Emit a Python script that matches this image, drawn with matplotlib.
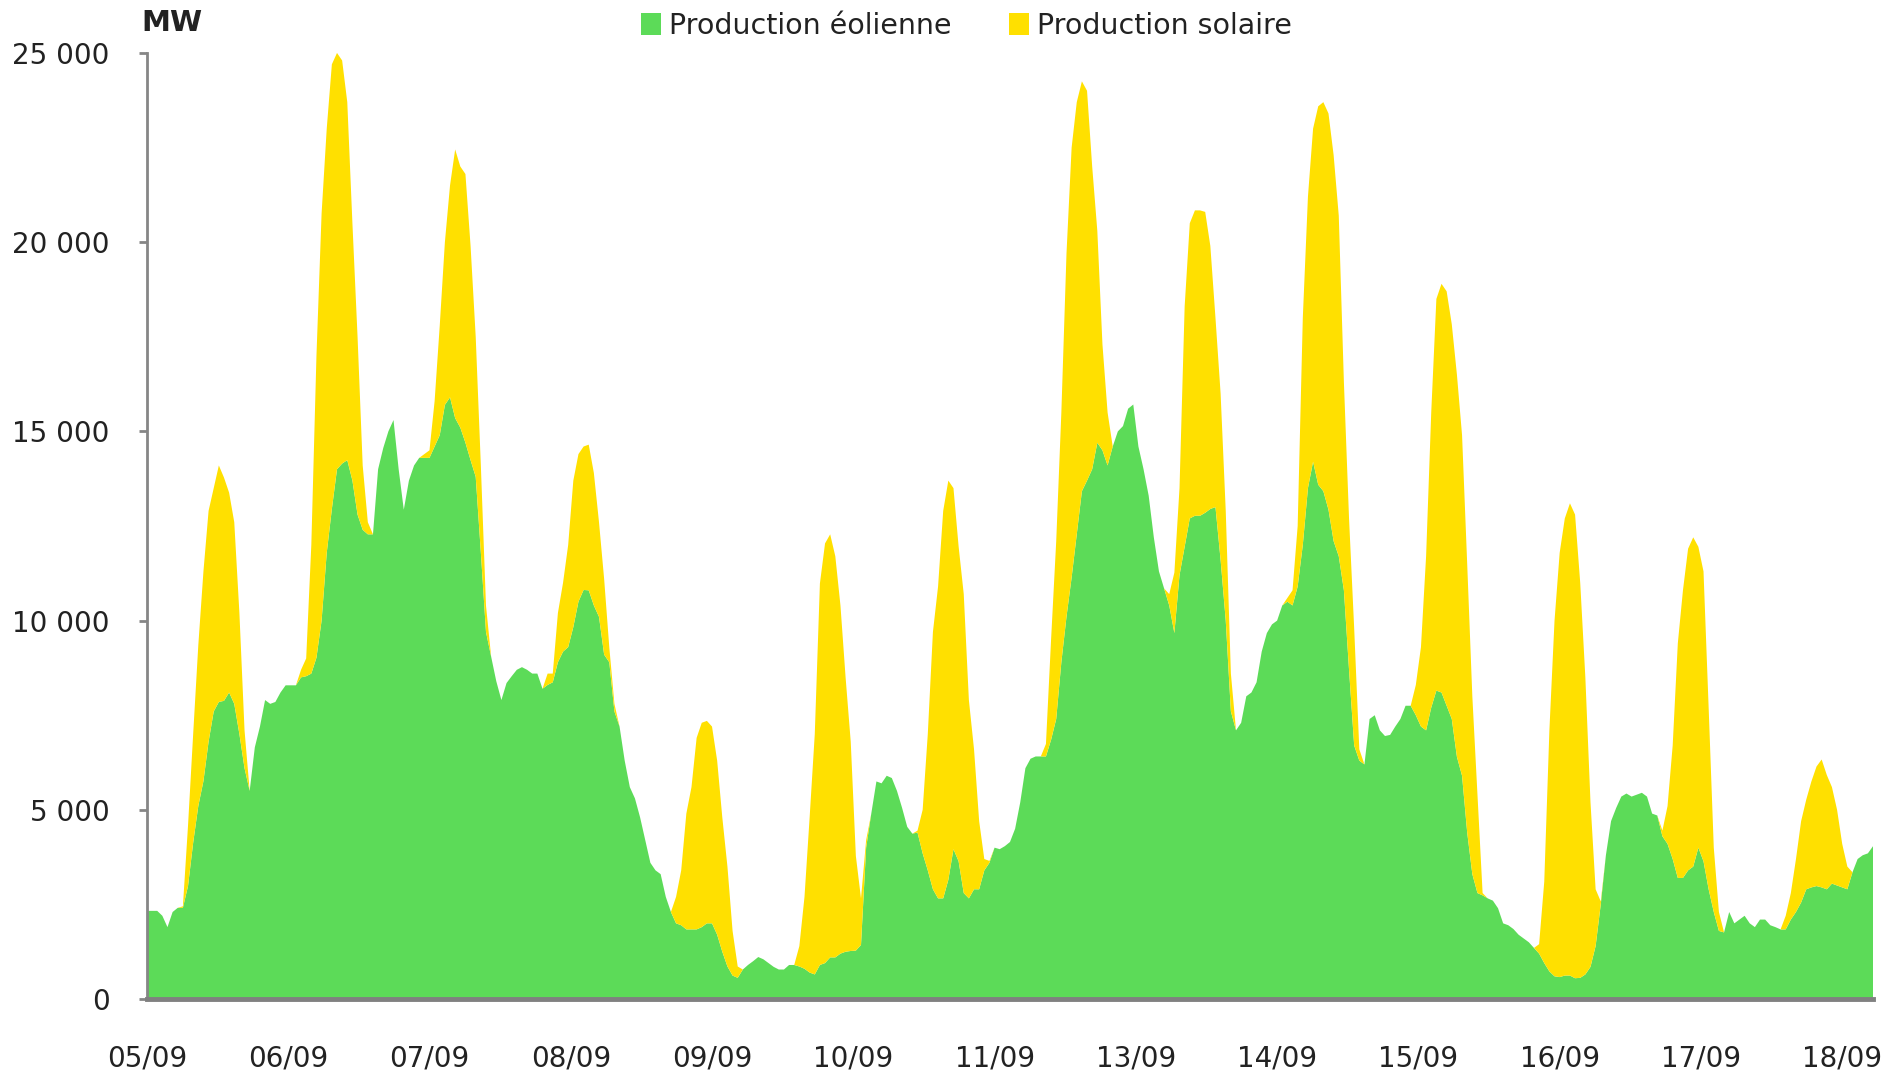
import numpy as np
import matplotlib
matplotlib.use("Agg")
import matplotlib.pyplot as plt
from matplotlib.patches import Patch

plt.rcParams['font.family'] = ['DejaVu Sans']

# hourly values (MW), one row per day starting 05/09 00:00
wind_mw = [
    2330, 2330, 2330, 2200, 1900, 2300, 2410, 2410, 2985, 4130, 5100, 5760, 6800, 7600, 7850, 7880, 8100, 7800, 7000, 6100, 5500, 6650, 7200, 7900,
    7800, 7850, 8100, 8290, 8290, 8290, 8500, 8530, 8600, 9020, 10000, 11790, 12950, 14000, 14150, 14240, 13700, 12800, 12400, 12280, 12280, 14000, 14560, 15000,
    15300, 14000, 12930, 13700, 14100, 14300, 14300, 14300, 14600, 14900, 15700, 15900, 15350, 15100, 14700, 14240, 13800, 11800, 9700, 9050, 8400, 7900, 8350, 8530,
    8700, 8770, 8700, 8600, 8600, 8200, 8300, 8370, 8900, 9180, 9300, 9830, 10500, 10810, 10800, 10400, 10100, 9100, 8900, 7600, 7200, 6300, 5600, 5300,
    4800, 4200, 3600, 3400, 3300, 2700, 2300, 2000, 1950, 1840, 1840, 1840, 1900, 2000, 2000, 1700, 1250, 860, 620, 560, 780, 900, 1000, 1110,
    1050, 950, 850, 780, 780, 900, 900, 860, 800, 700, 650, 900, 950, 1100, 1100, 1200, 1250, 1270, 1280, 1430, 4000, 4900, 5750, 5700,
    5900, 5840, 5500, 5050, 4550, 4370, 4400, 3850, 3400, 2900, 2660, 2660, 3150, 3960, 3640, 2800, 2660, 2900, 2900, 3400, 3600, 4000, 3960, 4040,
    4150, 4500, 5200, 6100, 6350, 6410, 6410, 6410, 6850, 7400, 8900, 10100, 11140, 12280, 13420, 13700, 14000, 14700, 14500, 14100, 14600, 15000, 15140, 15600,
    15710, 14600, 14000, 13300, 12200, 11300, 10850, 10400, 9670, 11200, 11950, 12700, 12770, 12770, 12850, 12950, 13000, 11600, 10000, 7600, 7100, 7300, 8000, 8100,
    8370, 9180, 9670, 9900, 10000, 10400, 10500, 10400, 10900, 12000, 13500, 14200, 13590, 13420, 12930, 12100, 11700, 10800, 8700, 6700, 6300, 6200, 7400, 7500,
    7100, 6950, 6980, 7200, 7400, 7750, 7750, 7500, 7200, 7100, 7700, 8150, 8100, 7750, 7400, 6400, 5900, 4400, 3300, 2800, 2740, 2660, 2600, 2400,
    2000, 1950, 1850, 1700, 1600, 1500, 1350, 1200, 950, 730, 600, 580, 620, 620, 550, 560, 650, 850, 1400, 2500, 3800, 4700, 5050, 5350,
    5430, 5350, 5400, 5450, 5350, 4900, 4850, 4300, 4100, 3700, 3200, 3200, 3400, 3500, 4000, 3640, 2900, 2300, 1800, 1760, 2300, 2000, 2100, 2200,
    2000, 1900, 2100, 2100, 1950, 1900, 1840, 1840, 2100, 2300, 2550, 2900, 2950, 2985, 2950, 2900, 3050, 3000, 2950, 2900, 3350, 3700, 3800, 3850,
    4040,
]

solar_mw = [
    0, 0, 0, 0, 0, 0, 0, 40, 1600, 2870, 4250, 5540, 6100, 5900, 6250, 5900, 5280, 4800, 3200, 1000, 0, 0, 0, 0,
    0, 0, 0, 0, 0, 0, 200, 470, 3400, 7980, 10760, 11210, 11750, 11000, 10650, 9460, 6800, 4700, 1700, 320, 0, 0, 0, 0,
    0, 0, 0, 0, 0, 0, 100, 200, 1200, 2900, 4300, 5600, 7100, 6900, 7100, 5660, 3700, 2300, 700, 0, 0, 0, 0, 0,
    0, 0, 0, 0, 0, 0, 300, 230, 1300, 1820, 2700, 3870, 3900, 3790, 3850, 3500, 2500, 2000, 400, 200, 0, 0, 0, 0,
    0, 0, 0, 0, 0, 0, 0, 700, 1450, 3060, 3760, 5060, 5400, 5350, 5200, 4600, 3550, 2640, 1180, 300, 0, 0, 0, 0,
    0, 0, 0, 0, 0, 0, 0, 540, 1900, 4100, 6350, 10080, 11090, 11180, 10600, 9200, 7250, 5530, 2500, 1230, 200, 0, 0, 0,
    0, 0, 0, 0, 0, 0, 50, 1150, 3600, 6800, 8240, 10240, 10550, 9540, 8320, 7900, 5240, 3700, 1800, 300, 50, 0, 0, 0,
    0, 0, 0, 0, 0, 0, 0, 330, 2650, 4700, 6600, 9600, 11360, 11420, 10830, 10300, 8000, 5600, 2800, 1400, 0, 0, 0, 0,
    0, 0, 0, 0, 0, 0, 0, 300, 1600, 2300, 6350, 7800, 8070, 8070, 7950, 6950, 5000, 4400, 2900, 1000, 0, 0, 0, 0,
    0, 0, 0, 0, 0, 0, 100, 400, 1600, 6000, 7700, 8800, 10000, 10280, 10470, 10200, 9000, 5500, 4000, 3100, 300, 0, 0, 0,
    0, 0, 0, 0, 0, 0, 0, 800, 2100, 4600, 7800, 10350, 10800, 10950, 10430, 10100, 9000, 7100, 4700, 2600, 60, 0, 0, 0,
    0, 0, 0, 0, 0, 0, 0, 250, 2150, 6370, 9400, 11210, 12080, 12480, 12250, 10440, 7850, 4350, 1500, 80, 0, 0, 0, 0,
    0, 0, 0, 0, 0, 0, 0, 150, 1000, 3000, 6200, 7600, 8500, 8700, 7950, 7660, 4800, 1700, 500, 0, 0, 0, 0, 0,
    0, 0, 0, 0, 0, 0, 0, 360, 700, 1400, 2150, 2370, 2800, 3160, 3380, 3020, 2550, 2000, 1150, 600, 0, 0, 0, 0,
    0,
]

series_names = ['Production éolienne', 'Production solaire']
series_colors = ['#5cdb58', '#ffe000']

# Excel-style category labels (one every 110 quarter-hours)
tick_labels = ['05/09', '06/09', '07/09', '08/09', '09/09', '10/09', '11/09',
               '13/09', '14/09', '15/09', '16/09', '17/09', '18/09']
y_ticks = [0, 5000, 10000, 15000, 20000, 25000]
y_tick_labels = ['0', '5 000', '10 000', '15 000', '20 000', '25 000']

hours = np.arange(len(wind_mw))

fig = plt.figure(figsize=(18.91, 10.74), dpi=100)
ax = fig.add_axes([0.0777, 0.0698, 0.9128, 0.8809])

ax.stackplot(hours, wind_mw, solar_mw, colors=series_colors, linewidth=0)

ax.set_xlim(0, hours[-1])
ax.set_ylim(0, 25000)

ax.set_yticks(y_ticks)
ax.set_yticklabels(y_tick_labels)
ax.set_xticks(np.arange(len(tick_labels)) * 27.5)
ax.set_xticklabels(tick_labels)

for s in ['top', 'right']:
    ax.spines[s].set_visible(False)
ax.spines['left'].set_color('#868686')
ax.spines['left'].set_linewidth(2)
ax.spines['bottom'].set_color('#808080')
ax.spines['bottom'].set_linewidth(3.5)

ax.tick_params(axis='y', direction='out', length=6, width=2, color='#868686',
               labelsize=20, pad=21, labelcolor='#222222')
ax.tick_params(axis='x', length=0, labelsize=20, pad=33, labelcolor='#222222')

fig.text(0.075, 0.979, 'MW', fontsize=21, fontweight='bold', color='#222222',
         va='center', ha='left')

handles = [Patch(facecolor=c, edgecolor='none') for c in series_colors]
fig.legend(handles, series_names, loc='center', bbox_to_anchor=(0.511, 0.976),
           ncol=2, frameon=False, fontsize=20.5, handlelength=0.7, handleheight=0.85,
           handletextpad=0.3, columnspacing=2.0, labelcolor='#222222')

fig.savefig('out.png', dpi=100)
